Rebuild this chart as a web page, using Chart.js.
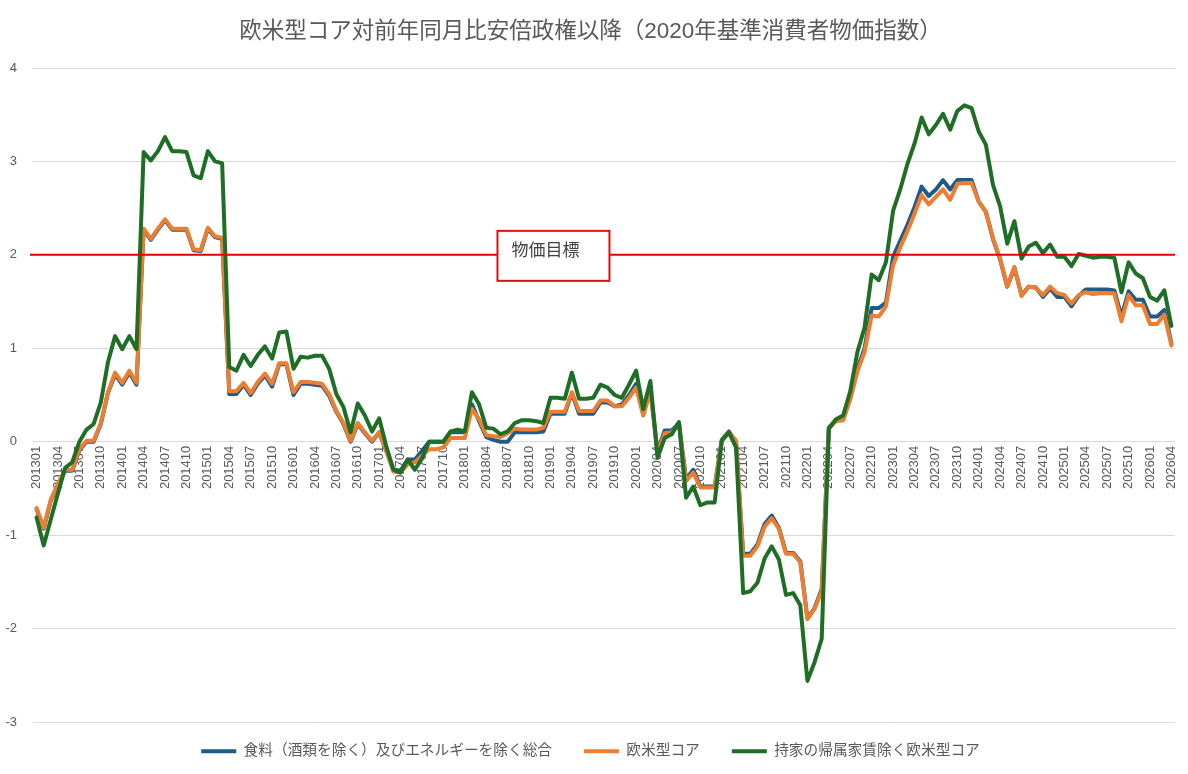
<!DOCTYPE html>
<html lang="ja">
<head>
<meta charset="utf-8">
<title>欧米型コア対前年同月比</title>
<script src="https://cdn.jsdelivr.net/npm/chart.js@4.4.1/dist/chart.umd.min.js"></script>
<style>
    html, body { margin: 0; padding: 0; background: #fff; }
    #quadro { width: 1188px; height: 774px; }
</style>
</head>
<body>
<div id="quadro"><canvas id="grafico"></canvas></div>
<script>
// ============================
// DATA
// ============================
const startYear = 2013;
const endYear = 2026;
const endMonth = 4;

// monthly categories 201301 ... 202604
const months = [];
for (let y = startYear; y <= endYear; y++) {
    for (let m = 1; m <= 12; m++) {
        if (y === endYear && m > endMonth) break;
        months.push(String(y) + String(m).padStart(2, "0"));
    }
}
const tickEvery = 3; // one label every 3 months

const yMin = -3;
const yMax = 4;
const yStep = 1;

const targetValue = 2;
const targetLabel = "物価目標";
const targetAnchor = "201901";

const chartTitle = "欧米型コア対前年同月比安倍政権以降（2020年基準消費者物価指数）";
const seriesNames = [
    "食料（酒類を除く）及びエネルギーを除く総合",
    "欧米型コア",
    "持家の帰属家賃除く欧米型コア"
];

// 食料（酒類を除く）及びエネルギーを除く総合
const coreExFoodEnergy = [
    -0.72, -0.93, -0.63, -0.46, -0.31, -0.31, -0.09, 0.00, 0.00, 0.19, 0.52, 0.72,
    0.61, 0.74, 0.61, 2.27, 2.16, 2.27, 2.37, 2.27, 2.27, 2.27, 2.05, 2.04,
    2.28, 2.19, 2.17, 0.51, 0.51, 0.61, 0.50, 0.62, 0.71, 0.59, 0.83, 0.83,
    0.50, 0.62, 0.62, 0.61, 0.60, 0.49, 0.32, 0.19, 0.00, 0.19, 0.09, 0.00,
    0.10, -0.10, -0.30, -0.31, -0.19, -0.19, -0.10, 0.00, 0.00, 0.00, 0.10, 0.10,
    0.10, 0.40, 0.22, 0.05, 0.02, 0.00, 0.00, 0.10, 0.10, 0.10, 0.10, 0.11,
    0.30, 0.30, 0.30, 0.52, 0.30, 0.30, 0.30, 0.42, 0.42, 0.38, 0.40, 0.50,
    0.62, 0.30, 0.56, -0.10, 0.12, 0.12, 0.20, -0.40, -0.30, -0.48, -0.48, -0.48,
    0.02, 0.11, 0.00, -1.20, -1.20, -1.10, -0.88, -0.79, -0.92, -1.19, -1.19, -1.28,
    -1.89, -1.78, -1.58, 0.15, 0.23, 0.24, 0.47, 0.78, 1.00, 1.43, 1.43, 1.49,
    1.98, 2.15, 2.32, 2.51, 2.73, 2.63, 2.70, 2.80, 2.70, 2.80, 2.80, 2.80,
    2.57, 2.46, 2.17, 1.95, 1.66, 1.86, 1.57, 1.66, 1.65, 1.55, 1.64, 1.55,
    1.55, 1.45, 1.56, 1.63, 1.63, 1.63, 1.63, 1.62, 1.34, 1.61, 1.52, 1.52,
    1.34, 1.34, 1.41, 1.05
];

// 欧米型コア
const westernCore = [
    -0.71, -0.92, -0.62, -0.45, -0.30, -0.30, -0.08, 0.01, 0.01, 0.20, 0.53, 0.74,
    0.63, 0.76, 0.63, 2.28, 2.17, 2.28, 2.38, 2.28, 2.28, 2.28, 2.06, 2.05,
    2.29, 2.20, 2.18, 0.54, 0.54, 0.63, 0.52, 0.64, 0.73, 0.62, 0.84, 0.84,
    0.53, 0.64, 0.64, 0.63, 0.62, 0.51, 0.33, 0.20, 0.01, 0.20, 0.10, 0.01,
    0.10, -0.10, -0.32, -0.33, -0.24, -0.22, -0.15, -0.08, -0.08, -0.06, 0.04, 0.04,
    0.04, 0.35, 0.24, 0.07, 0.06, 0.05, 0.09, 0.14, 0.13, 0.13, 0.13, 0.15,
    0.32, 0.32, 0.32, 0.53, 0.33, 0.33, 0.33, 0.44, 0.44, 0.38, 0.38, 0.47,
    0.58, 0.28, 0.54, -0.12, 0.09, 0.10, 0.19, -0.42, -0.33, -0.49, -0.49, -0.49,
    0.01, 0.10, 0.01, -1.22, -1.22, -1.12, -0.91, -0.82, -0.93, -1.20, -1.20, -1.29,
    -1.90, -1.79, -1.60, 0.14, 0.22, 0.23, 0.45, 0.75, 0.96, 1.35, 1.34, 1.45,
    1.89, 2.08, 2.25, 2.44, 2.64, 2.54, 2.62, 2.70, 2.59, 2.76, 2.77, 2.77,
    2.57, 2.46, 2.18, 1.96, 1.66, 1.87, 1.56, 1.66, 1.65, 1.57, 1.66, 1.59,
    1.57, 1.48, 1.57, 1.60, 1.58, 1.59, 1.59, 1.59, 1.29, 1.57, 1.46, 1.46,
    1.26, 1.26, 1.36, 1.03
];

// 持家の帰属家賃除く欧米型コア
const westernCoreExRent = [
    -0.81, -1.11, -0.83, -0.55, -0.28, -0.22, 0.00, 0.13, 0.19, 0.42, 0.85, 1.13,
    0.99, 1.13, 0.99, 3.10, 3.01, 3.11, 3.26, 3.11, 3.11, 3.10, 2.85, 2.82,
    3.11, 3.00, 2.98, 0.80, 0.76, 0.93, 0.81, 0.93, 1.02, 0.89, 1.17, 1.18,
    0.78, 0.91, 0.90, 0.92, 0.92, 0.78, 0.51, 0.37, 0.10, 0.41, 0.28, 0.11,
    0.25, -0.05, -0.30, -0.33, -0.19, -0.30, -0.18, 0.00, 0.00, 0.00, 0.11, 0.13,
    0.11, 0.53, 0.40, 0.15, 0.14, 0.08, 0.11, 0.20, 0.23, 0.23, 0.22, 0.20,
    0.47, 0.47, 0.46, 0.74, 0.46, 0.46, 0.47, 0.61, 0.58, 0.50, 0.47, 0.61,
    0.76, 0.35, 0.65, -0.17, 0.04, 0.08, 0.21, -0.60, -0.48, -0.68, -0.65, -0.65,
    0.01, 0.10, -0.06, -1.62, -1.60, -1.51, -1.25, -1.12, -1.26, -1.64, -1.62, -1.75,
    -2.56, -2.36, -2.11, 0.14, 0.24, 0.28, 0.54, 0.96, 1.22, 1.79, 1.73, 1.92,
    2.47, 2.70, 2.97, 3.19, 3.47, 3.29, 3.39, 3.51, 3.34, 3.54, 3.60, 3.57,
    3.32, 3.18, 2.75, 2.52, 2.12, 2.36, 1.96, 2.09, 2.13, 2.02, 2.11, 1.98,
    1.98, 1.88, 2.01, 1.99, 1.97, 1.98, 1.98, 1.97, 1.60, 1.92, 1.80, 1.75,
    1.55, 1.51, 1.62, 1.24
];

// ============================
// STYLE
// ============================
const fonte = "'Liberation Sans', 'Noto Sans CJK JP', sans-serif";
const cinza = "#595959";
const cores = ["#1f5b86", "#ed7d31", "#1f6e26"];
const vermelho = "#e00000";

// ============================
// TARGET LINE + BOX
// ============================
const linhaMeta = {
    id: "linhaMeta",
    afterDatasetsDraw(chart) {
        const { ctx, chartArea, scales } = chart;
        const y = scales.y.getPixelForValue(targetValue);
        ctx.save();
        ctx.strokeStyle = vermelho;
        ctx.lineWidth = 2;
        ctx.beginPath();
        ctx.moveTo(chartArea.left - 3, y);
        ctx.lineTo(chartArea.right, y);
        ctx.stroke();

        // caixa "物価目標"
        const cx = scales.x.getPixelForValue(months.indexOf(targetAnchor)) + 3;
        const w = 112, h = 50;
        const left = cx - w / 2, top = y - h / 2 + 1;
        ctx.fillStyle = "#ffffff";
        ctx.fillRect(left, top, w, h);
        ctx.strokeStyle = "#d41414";
        ctx.lineWidth = 2;
        ctx.strokeRect(left, top, w, h);
        ctx.fillStyle = "#404040";
        ctx.font = "17px " + fonte;
        ctx.textAlign = "left";
        ctx.textBaseline = "middle";
        ctx.fillText(targetLabel, left + 14, top + h / 2 - 5);
        ctx.restore();
    }
};

// legend sits closer to the plot than Chart.js would put it
const ajusteLegenda = {
    id: "ajusteLegenda",
    afterLayout(chart) {
        chart.legend.top -= 10;
        chart.legend.bottom -= 10;
    }
};

// ============================
// CHART
// ============================
new Chart(document.getElementById("grafico"), {
    type: "line",
    data: {
        labels: months,
        datasets: [
            { label: seriesNames[0], data: coreExFoodEnergy, borderColor: cores[0], backgroundColor: cores[0], order: 3 },
            { label: seriesNames[1], data: westernCore, borderColor: cores[1], backgroundColor: cores[1], order: 2 },
            { label: seriesNames[2], data: westernCoreExRent, borderColor: cores[2], backgroundColor: cores[2], order: 1 }
        ]
    },
    options: {
        responsive: true,
        maintainAspectRatio: false,
        animation: false,
        layout: { padding: { left: 6, right: 13, top: 0, bottom: -4.7 } },
        elements: {
            line: { borderWidth: 4, tension: 0, borderJoinStyle: "round", borderCapStyle: "round", fill: false },
            point: { radius: 0, hoverRadius: 0 }
        },
        scales: {
            x: {
                type: "category",
                position: { y: 0 },
                offset: true,
                grid: { display: false, drawTicks: false },
                border: { display: false },
                // rotated labels should not push the plot inwards
                afterFit: (scale) => {
                    scale.paddingLeft = 0;
                    scale.paddingRight = 0;
                },
                ticks: {
                    autoSkip: false,
                    minRotation: 90,
                    maxRotation: 90,
                    padding: 4,
                    color: cinza,
                    font: { size: 13, family: fonte },
                    callback: (value, index) => index % tickEvery === 0 ? months[index] : ""
                }
            },
            y: {
                min: yMin,
                max: yMax,
                grid: { color: "#d9d9d9", drawTicks: false },
                border: { display: false },
                // tick padding is counted twice by Chart.js, keep the axis narrow
                afterFit: (scale) => {
                    scale.width = 27;
                },
                ticks: {
                    stepSize: yStep,
                    padding: 16,
                    color: cinza,
                    font: { size: 13, family: fonte }
                }
            }
        },
        plugins: {
            title: {
                display: true,
                text: chartTitle,
                color: cinza,
                font: { size: 22.5, weight: "normal", family: fonte },
                padding: { top: 18, bottom: 23 }
            },
            legend: {
                position: "bottom",
                labels: {
                    boxWidth: 35,
                    boxHeight: 4,
                    padding: 32,
                    color: cinza,
                    font: { size: 14.7, family: fonte },
                    generateLabels: (chart) => chart.data.datasets.map((ds, i) => ({
                        text: ds.label,
                        fillStyle: ds.borderColor,
                        strokeStyle: ds.borderColor,
                        lineWidth: 0,
                        fontColor: cinza,
                        hidden: !chart.isDatasetVisible(i),
                        datasetIndex: i
                    }))
                }
            },
            tooltip: { enabled: false }
        }
    },
    plugins: [linhaMeta, ajusteLegenda]
});
</script>
</body>
</html>
